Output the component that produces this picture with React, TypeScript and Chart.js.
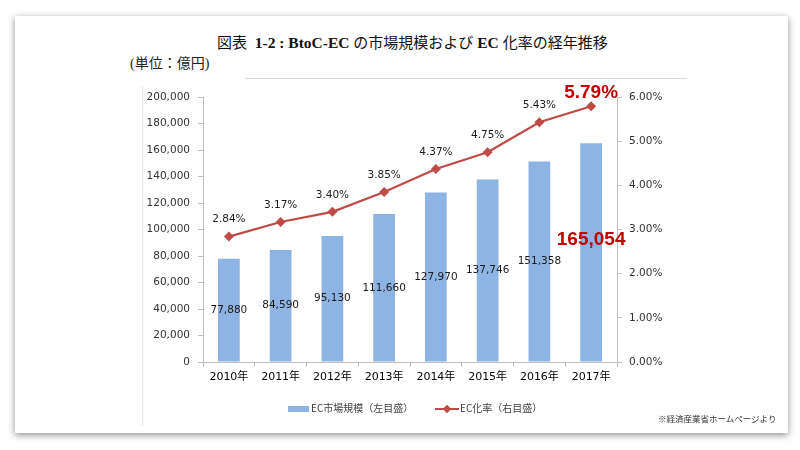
import React, { useEffect, useRef } from "react";
import { Chart, registerables } from "chart.js";

Chart.register(...registerables);

const years = ["2010年", "2011年", "2012年", "2013年", "2014年", "2015年", "2016年", "2017年"];
const marketSize = [77880, 84590, 95130, 111660, 127970, 137746, 151358, 165054];
const ecRate = [2.84, 3.17, 3.4, 3.85, 4.37, 4.75, 5.43, 5.79];
const leftMax = 200000;
const leftStep = 20000;
const rightMax = 6;
const rightStep = 1;
const barLabel = "EC市場規模（左目盛）";
const lineLabel = "EC化率（右目盛）";
const titleParts: [string, boolean][] = [
  ["図表", false],
  ["\u00a0\u00a01-2 : BtoC-EC ", true],
  ["の市場規模および", false],
  [" EC ", true],
  ["化率の経年推移", false],
];
const unitText = "(単位：億円)";
const sourceText = "※経済産業省ホームページより";

const BAR_COLOR = "#8db4e2";
const LINE_COLOR = "#be4b48";
const HIGHLIGHT = "#c00000";
const NUM_FONT = "'DejaVu Sans', 'Noto Sans CJK JP', sans-serif";

const fmtInt = (v: number) => v.toLocaleString("en-US");
const fmtPct = (v: number) => v.toFixed(2) + "%";

const labelPlugin = {
  id: "valueLabels",
  afterDatasetsDraw(chart: any) {
    const ctx = chart.ctx;
    const last = marketSize.length - 1;
    ctx.save();
    ctx.textAlign = "center";
    ctx.textBaseline = "middle";
    const barMeta = chart.getDatasetMeta(0);
    barMeta.data.forEach((el: any, i: number) => {
      const p = el.getProps(["x", "y", "base"], true);
      const mid = (p.y + p.base) / 2;
      if (i === last) {
        ctx.font = "bold 19px 'Liberation Sans', sans-serif";
        ctx.fillStyle = HIGHLIGHT;
        ctx.fillText(fmtInt(marketSize[i]), p.x, mid - 13);
      } else {
        ctx.font = "10.5px " + NUM_FONT;
        ctx.fillStyle = "#1a1a1a";
        ctx.fillText(fmtInt(marketSize[i]), p.x, mid);
      }
    });
    const lineMeta = chart.getDatasetMeta(1);
    lineMeta.data.forEach((el: any, i: number) => {
      const p = el.getProps(["x", "y"], true);
      if (i === last) {
        ctx.font = "bold 19px 'Liberation Sans', sans-serif";
        ctx.fillStyle = HIGHLIGHT;
        ctx.fillText(fmtPct(ecRate[i]), p.x, p.y - 14);
      } else {
        ctx.font = "10.5px " + NUM_FONT;
        ctx.fillStyle = "#1a1a1a";
        ctx.fillText(fmtPct(ecRate[i]), p.x, p.y - 17);
      }
    });
    ctx.restore();
  },
};

function ChartCanvas() {
  const ref = useRef<HTMLCanvasElement | null>(null);
  useEffect(() => {
    if (!ref.current) return;
    const chart = new Chart(ref.current, {
      type: "bar",
      data: {
        labels: years,
        datasets: [
          {
            type: "bar",
            label: barLabel,
            data: marketSize,
            backgroundColor: BAR_COLOR,
            borderWidth: 0,
            yAxisID: "y",
            categoryPercentage: 1,
            barPercentage: 0.42,
            order: 2,
          },
          {
            type: "line",
            label: lineLabel,
            data: ecRate,
            borderColor: LINE_COLOR,
            backgroundColor: LINE_COLOR,
            borderWidth: 2.25,
            pointStyle: "rectRot",
            pointRadius: 5,
            pointBorderWidth: 0,
            pointBackgroundColor: LINE_COLOR,
            yAxisID: "y1",
            tension: 0,
            order: 1,
          } as any,
        ],
      },
      options: {
        responsive: false,
        animation: false,
        devicePixelRatio: 1,
        layout: { padding: { left: 140, right: 123, top: 97, bottom: 58 } },
        plugins: { legend: { display: false }, tooltip: { enabled: false }, title: { display: false } },
        scales: {
          x: {
            offset: true,
            grid: { display: true, drawOnChartArea: false, drawTicks: true, tickLength: 5, color: "#bfbfbf", offset: true },
            border: { display: true, color: "#bfbfbf", width: 1 },
            ticks: { color: "#000", font: { family: NUM_FONT, size: 11 }, padding: 4, maxRotation: 0 },
            afterFit: (s: any) => { s.height = 30; },
          },
          y: {
            position: "left",
            min: 0,
            max: leftMax,
            grid: { display: true, drawOnChartArea: false, drawTicks: true, tickLength: 5, color: "#bfbfbf" },
            border: { display: true, color: "#bfbfbf", width: 1 },
            ticks: { stepSize: leftStep, color: "#333", font: { family: NUM_FONT, size: 10.5 }, padding: 8, callback: (v: any) => fmtInt(Number(v)) },
            afterFit: (s: any) => { s.width = 63; },
          },
          y1: {
            position: "right",
            min: 0,
            max: rightMax,
            grid: { display: true, drawOnChartArea: false, drawTicks: true, tickLength: 5, color: "#bfbfbf" },
            border: { display: true, color: "#bfbfbf", width: 1 },
            ticks: { stepSize: rightStep, color: "#333", font: { family: NUM_FONT, size: 10.5 }, padding: 7, callback: (v: any) => fmtPct(Number(v)) },
            afterFit: (s: any) => { s.width = 60; },
          },
        },
      },
      plugins: [labelPlugin],
    });
    return () => chart.destroy();
  }, []);
  return (
    <canvas
      ref={ref}
      width={800}
      height={450}
      style={{ position: "absolute", left: 0, top: 0, width: 800, height: 450 }}
    />
  );
}

export default function App() {
  useEffect(() => {
    document.body.style.margin = "0";
  }, []);
  const cjkSerif = "'Liberation Serif', 'Noto Sans CJK JP', serif";
  const cjkSans = "'Noto Sans CJK JP', sans-serif";
  return (
    <div style={{ position: "relative", width: 800, height: 450, background: "#fff", overflow: "hidden" }}>
      <div
        style={{
          position: "absolute",
          left: 15,
          top: 16,
          width: 773,
          height: 417,
          background: "#fff",
          boxShadow: "0 2px 7px rgba(0,0,0,0.45)",
        }}
      />
      <div style={{ position: "absolute", left: 142, top: 86, width: 1, height: 340, background: "#e3e3e3" }} />
      <div style={{ position: "absolute", left: 245, top: 78, width: 442, height: 1, background: "#d9d9d9" }} />
      <div
        style={{
          position: "absolute",
          left: 217,
          top: 33,
          whiteSpace: "pre",
          fontFamily: cjkSerif,
          fontSize: 15,
          lineHeight: "20px",
          color: "#111",
        }}
      >
        {titleParts.map(([t, b], i) => (
          <span key={i} style={{ fontWeight: b ? "bold" : "normal", fontSize: b ? 15.5 : 15 }}>
            {t}
          </span>
        ))}
      </div>
      <div
        style={{
          position: "absolute",
          left: 130,
          top: 55,
          whiteSpace: "nowrap",
          fontFamily: cjkSerif,
          fontSize: 14,
          lineHeight: "18px",
          color: "#222",
        }}
      >
        {unitText}
      </div>
      <ChartCanvas />
      <div style={{ position: "absolute", left: 288, top: 406, width: 21, height: 6, background: BAR_COLOR }} />
      <div
        style={{
          position: "absolute",
          left: 311,
          top: 401,
          whiteSpace: "nowrap",
          fontFamily: cjkSans,
          fontSize: 10,
          lineHeight: "14px",
          color: "#404040",
        }}
      >
        {barLabel}
      </div>
      <div style={{ position: "absolute", left: 435, top: 408, width: 24, height: 2, background: LINE_COLOR }} />
      <div
        style={{
          position: "absolute",
          left: 444,
          top: 406,
          width: 6,
          height: 6,
          background: LINE_COLOR,
          transform: "rotate(45deg)",
        }}
      />
      <div
        style={{
          position: "absolute",
          left: 460,
          top: 401,
          whiteSpace: "nowrap",
          fontFamily: cjkSans,
          fontSize: 10,
          lineHeight: "14px",
          color: "#404040",
        }}
      >
        {lineLabel}
      </div>
      <div
        style={{
          position: "absolute",
          left: 658,
          top: 412,
          whiteSpace: "nowrap",
          fontFamily: cjkSans,
          fontSize: 8.5,
          lineHeight: "12px",
          color: "#333",
        }}
      >
        {sourceText}
      </div>
    </div>
  );
}
